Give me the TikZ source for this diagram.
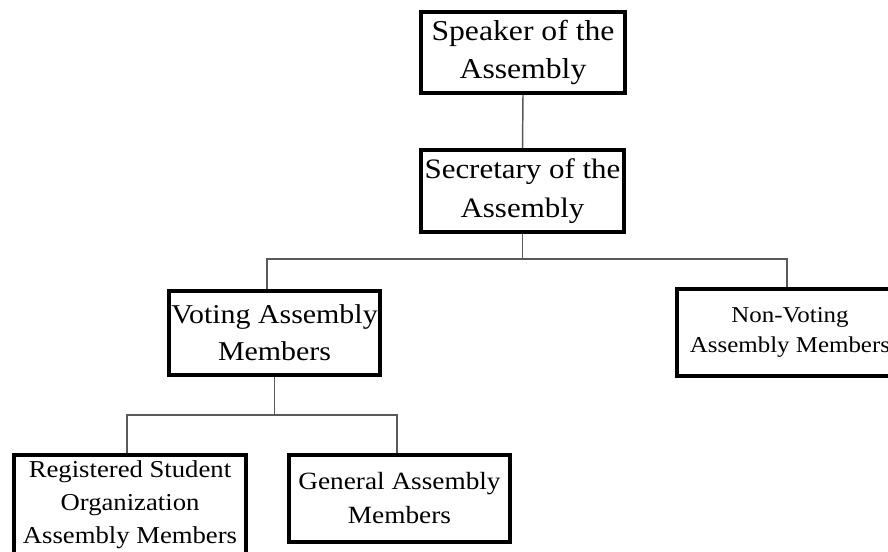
\documentclass[tikz,border=0pt]{standalone}
\usepackage{fontspec}
\setmainfont{Liberation Serif}[FakeStretch=1.1]
\begin{document}
\begin{tikzpicture}[x=0.75pt,y=-0.75pt,
  box/.style={draw=black,line width=3pt,align=center,inner sep=0pt,fill=white},
  conn/.style={draw=black!65,line width=1.1pt}]
\useasboundingbox (0,0) rectangle (888,551);
\clip (0,0) rectangle (888,551);
\node[box,minimum width=153pt,minimum height=60.75pt,font=\fontsize{21.6}{28.5}\selectfont] (spk) at (523,52.5) {Speaker of the\\Assembly};
\node[box,minimum width=152.25pt,minimum height=61.5pt,font=\fontsize{21.1}{29}\selectfont] (sec) at (522.5,191) {Secretary of the\\Assembly};
\node[box,minimum width=158.25pt,minimum height=63pt,font=\fontsize{20.4}{27.75}\selectfont] (vot) at (274.5,333) {Voting Assembly\\Members};
\node[box,minimum width=169.5pt,minimum height=65.25pt,font=\fontsize{17}{22.5}\selectfont] (non) at (790,332.5) {Non-Voting\\Assembly Members};
\node[box,minimum width=174pt,minimum height=75pt,font=\fontsize{18.2}{24.75}\selectfont] (reg) at (130,505) {Registered Student\\Organization\\Assembly Members};
\node[box,minimum width=165.75pt,minimum height=65.25pt,font=\fontsize{18.6}{25.5}\selectfont] (gen) at (399.5,498.5) {General Assembly\\Members};
\coordinate (b1) at (524,259);
\coordinate (b2) at (275,415);
\draw[conn] (spk.south) -- (sec.north);
\draw[conn] (sec.south) -- (sec.south |- b1);
\draw[conn] ([xshift=-5.6pt]vot.north) |- ([xshift=-2.25pt]non.north |- b1) -- ([xshift=-2.25pt]non.north);
\draw[conn] (vot.south) -- (vot.south |- b2);
\draw[conn] ([xshift=-2.25pt]reg.north) |- ([xshift=-1.9pt]gen.north |- b2) -- ([xshift=-1.9pt]gen.north);
\end{tikzpicture}
\end{document}
